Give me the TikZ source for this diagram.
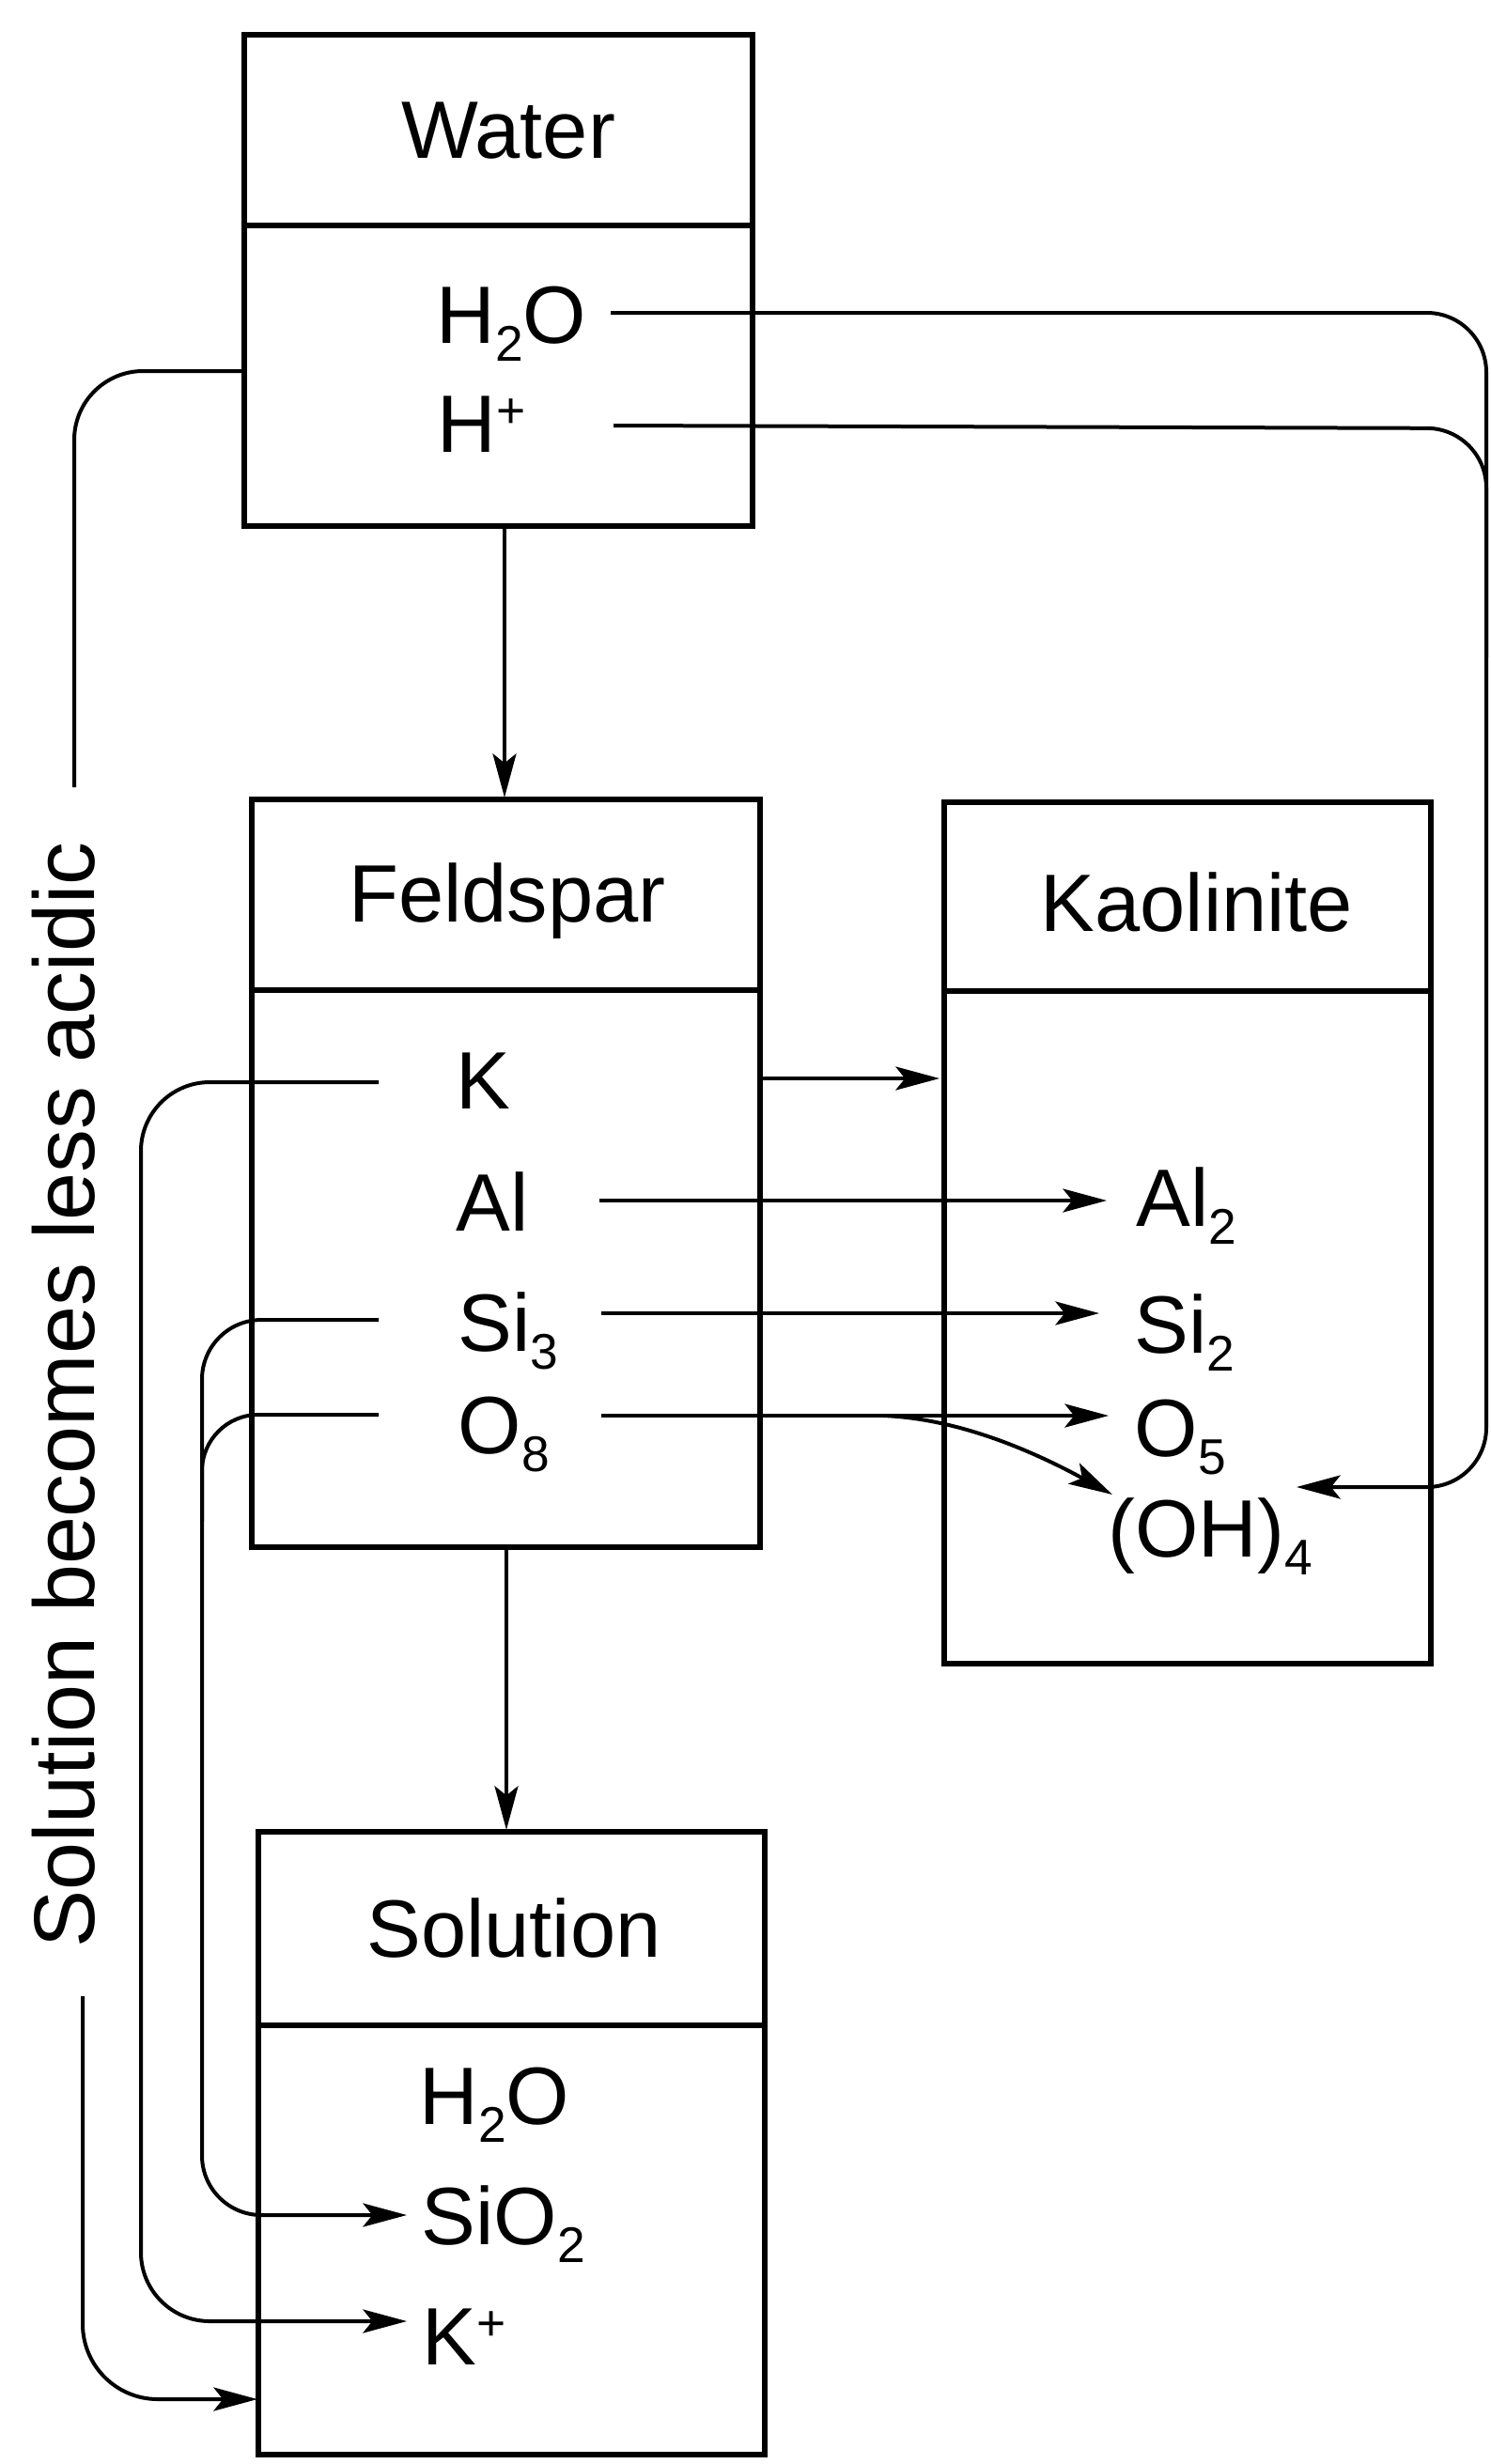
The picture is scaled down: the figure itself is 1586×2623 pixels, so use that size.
\documentclass[tikz,border=0pt]{standalone}
\usepackage{fontspec}
\setmainfont{Liberation Sans}
\usetikzlibrary{arrows.meta,fit}
\newcommand{\chsub}[1]{\raisebox{-0.22em}{\fontsize{16}{16}\selectfont #1}}
\newcommand{\chsup}[1]{\raisebox{0.3em}{\fontsize{16}{16}\selectfont #1}}
\begin{document}
\begin{tikzpicture}[x=0.3pt,y=-0.3pt,
  box/.style={draw, line width=1.6pt, inner sep=0pt, outer sep=0pt},
  divider/.style={line width=1.6pt},
  title/.style={font=\fontsize{26}{26}\selectfont, inner sep=0pt, anchor=base},
  item/.style={font=\fontsize{26}{26}\selectfont, inner sep=0pt, anchor=base west},
  conn/.style={line width=1.2pt},
  arr/.style={conn, -{Stealth[length=14pt,width=7.5pt,inset=3pt]}},
]
\useasboundingbox (0,0) rectangle (1586,2623);

% boxes
\node[box, fit={(260,37) (801,560)}] (water) {};
\draw[divider] (260,240) -- (801,240);
\node[box, fit={(268,851) (809,1647)}] (feld) {};
\draw[divider] (268,1054) -- (809,1054);
\node[box, fit={(1005,854) (1523,1771)}] (kaol) {};
\draw[divider] (1005,1055) -- (1523,1055);
\node[box, fit={(275,1950) (814,2613)}] (sol) {};
\draw[divider] (275,2156) -- (814,2156);

% titles
\node[title] (wT) at (541,168) {Water};
\node[title] (fT) at (540,981) {Feldspar};
\node[title] (kT) at (1274,991) {Kaolinite};
\node[title] (sT) at (547,2083) {Solution};

% items
\node[item] (wH2O) at (464,365) {H\chsub{2}O};
\node[item] (wHp) at (465,481) {H\chsup{+}};
\node[item] (fK) at (485,1180) {K};
\node[item] (fAl) at (485,1310) {Al};
\node[item] (fSi) at (487,1438) {Si\chsub{3}};
\node[item] (fO) at (487,1547) {O\chsub{8}};
\node[item] (kAl) at (1209,1305) {Al\chsub{2}};
\node[item] (kSi) at (1207,1440) {Si\chsub{2}};
\node[item] (kO) at (1207,1550) {O\chsub{5}};
\node[item] (kOH) at (1179,1657) {(OH)\chsub{4}};
\node[item] (sH2O) at (446,2261) {H\chsub{2}O};
\node[item] (sSiO) at (448,2389) {SiO\chsub{2}};
\node[item] (sK) at (449,2517) {K\chsup{+}};

% side label
\node[rotate=90, anchor=base, inner sep=0pt, font=\fontsize{27.5}{27.5}\selectfont] (acid) at (100,1485) {Solution becomes less acidic};

% connector end points
\coordinate (wH2Oa) at (650,333);
\coordinate (wHpa) at (653,453);
\coordinate (kOHa) at (1380,1583);
\coordinate (wLeft) at (260,395);
\coordinate (acidTop) at (79,838);
\coordinate (acidBot) at (88,2125);
\coordinate (solIn) at (274,2554);
\coordinate (fKa) at (403,1152);
\coordinate (sKa) at (433,2471);
\coordinate (fSia) at (403,1405);
\coordinate (sSiOa) at (433,2358);
\coordinate (fOa) at (403,1506);
\coordinate (fKr) at (809,1148);
\coordinate (kLeft) at (1000,1148);
\coordinate (fAlr) at (638,1278);
\coordinate (kAla) at (1178,1278);
\coordinate (fSir) at (640,1398);
\coordinate (kSia) at (1170,1398);
\coordinate (fOr) at (640,1507);
\coordinate (kOa) at (1180,1507);
\coordinate (branch) at (940,1507);
\coordinate (kOHb) at (1184,1591);
\coordinate (wOut) at (537,560);
\coordinate (fIn) at (537,849);
\coordinate (fOut) at (539,1647);
\coordinate (sIn) at (539,1948);

% connectors
\draw[arr, rounded corners=19pt] (wH2Oa) -- (1582,333) -- (1582,1583) -- (kOHa);
\draw[conn, rounded corners=19pt] (wHpa) -- (1582,456) -- (1582,700);
\draw[conn, rounded corners=22pt] (wLeft) -- (79,395) -- (acidTop);
\draw[arr, rounded corners=24pt] (acidBot) -- (88,2554) -- (solIn);
\draw[arr, rounded corners=22pt] (fKa) -- (150,1152) -- (150,2471) -- (sKa);
\draw[arr, rounded corners=19pt] (fSia) -- (215,1405) -- (215,2358) -- (sSiOa);
\draw[conn, rounded corners=18pt] (fOa) -- (215,1506) -- (215,1620);
\draw[arr] (fKr) -- (kLeft);
\draw[arr] (fAlr) -- (kAla);
\draw[arr] (fSir) -- (kSia);
\draw[arr] (fOr) -- (kOa);
\draw[arr] (branch) .. controls (1020,1510) and (1100,1545) .. (kOHb);
\draw[arr] (wOut) -- (fIn);
\draw[arr] (fOut) -- (sIn);
\end{tikzpicture}
\end{document}
